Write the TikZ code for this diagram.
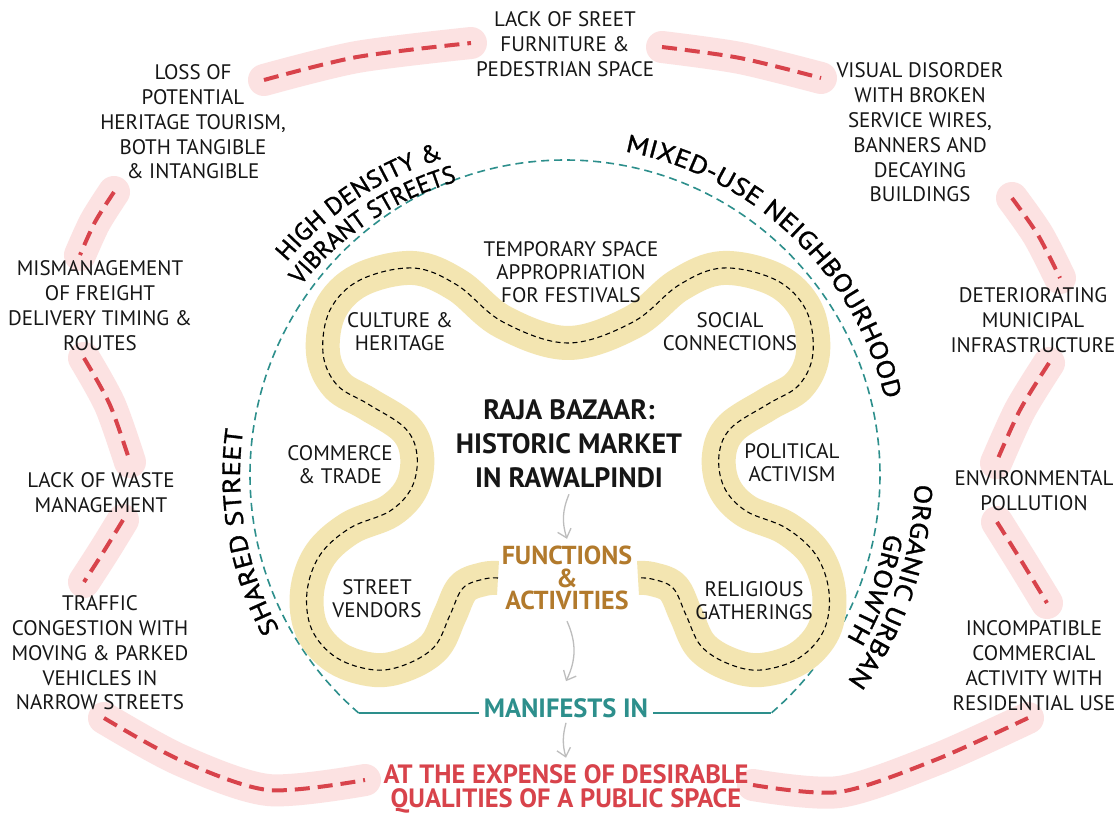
\documentclass[tikz,border=0pt]{standalone}
\usepackage{fontspec}
\setmainfont{PT Sans}
\newfontfamily\arcfam{PT Sans}[FakeBold=1.2, FakeStretch=1.15]
\newfontfamily\arcfamb{PT Sans}[FakeBold=1.2, FakeStretch=1.05]
\newfontfamily\arcfamc{PT Sans}[FakeBold=1.2, FakeStretch=0.98]
\usetikzlibrary{decorations.text,arrows.meta,calc}
\definecolor{cream}{HTML}{F3E5B1}
\definecolor{halopink}{HTML}{FCE2E2}
\definecolor{dashred}{HTML}{D8434B}
\definecolor{tealc}{HTML}{2D8F8C}
\definecolor{brownc}{HTML}{B27A2C}
\definecolor{grayc}{HTML}{BDBDBD}
\definecolor{inkc}{HTML}{161616}
\newcommand{\arcfnt}{\arcfam\fontsize{25}{25}\selectfont}
\newcommand{\arcfntb}{\arcfamb\fontsize{24.5}{24.5}\selectfont}
\newcommand{\arcfntc}{\arcfamc\fontsize{24.5}{24.5}\selectfont}
\begin{document}
\begin{tikzpicture}[x=1pt,y=1pt,
  body/.style={font=\fontsize{21}{24.8}\selectfont, align=center, text=inkc, inner sep=0pt},
  innertxt/.style={font=\fontsize{21}{23}\selectfont, align=center, text=inkc, inner sep=0pt},
  boldtxt/.style={align=center, inner sep=0pt},
  reddash/.style={draw=dashred, line width=4pt, dash pattern=on 15pt off 8pt,
     preaction={draw=halopink, line width=32pt, solid, line cap=round}},
  bandline/.style={draw=black, line width=1.1pt, dash pattern=on 5pt off 3.5pt,
     preaction={draw=cream, line width=34pt, solid, line cap=butt, line join=round}},
  tealdash/.style={draw=tealc, line width=1.6pt, dash pattern=on 8pt off 5pt},
  tealline/.style={draw=tealc, line width=1.8pt},
  grayarrow/.style={draw=grayc, line width=1.3pt, -{Straight Barb[length=8pt,width=14pt]}},
  arctext/.style={decorate, decoration={text along path, text align={fit to path}, text={#1}}},
  arctextc/.style={decorate, decoration={text along path, text align=center, text={#1}}}
]
\useasboundingbox (0,0) rectangle (1120,-817);
\fill[white] (0,0) rectangle (1120,-817);

% outer red dashed segments with halo
\draw[reddash] plot[smooth] coordinates {(264,-80) (357,-57) (471,-43)};
\draw[reddash] plot[smooth] coordinates {(662,-47) (740,-58) (821,-78)};
\draw[reddash] plot[smooth] coordinates {(114,-192) (95,-222) (80,-255)};
\draw[reddash] plot[smooth] coordinates {(84,-358) (110,-405) (130,-462)};
\draw[reddash] plot[smooth] coordinates {(123,-520) (104,-551) (84,-582)};
\draw[reddash] plot[smooth] coordinates {(104,-718) (180,-760) (268,-790) (365,-780)};
\draw[reddash] plot[smooth] coordinates {(753,-785) (839,-792) (935,-760) (1028,-718)};
\draw[reddash] plot[smooth] coordinates {(997,-522) (1022,-562) (1047,-603)};
\draw[reddash] plot[smooth] coordinates {(1049,-363) (1020,-410) (996,-463)};
\draw[reddash] plot[smooth] coordinates {(1012,-198) (1038,-235) (1060,-278)};

% teal dashed arc
\coordinate (cen) at (565,-475);
\coordinate (cen2) at (540,-475);
\coordinate (cl) at ($(cen)+(229.1:315)$);
\coordinate (cr) at ($(cen)+(-49.1:315)$);
\draw[tealdash] (cl) arc[start angle=229.1, end angle=-49.1, radius=315];

% band
\draw[bandline] plot[smooth, tension=0.6] coordinates {
(498,-578) (484,-579) (463,-588) (450,-615) (435,-646) (407,-664) (375,-670)
(337,-658) (312,-630) (307,-592) (320,-555) (350,-528) (390,-511) (412,-487)
(417,-455) (405,-428) (368,-404) (337,-385) (323,-353) (330,-310) (360,-280)
(413,-268) (457,-285) (503,-322) (568,-343)
(633,-322) (679,-285) (723,-268) (776,-280) (806,-310) (813,-353) (799,-385)
(768,-404) (731,-428) (719,-455) (724,-487) (746,-511) (786,-528) (816,-555)
(829,-592) (824,-630) (799,-658) (761,-670) (729,-664) (701,-646) (686,-615)
(673,-588) (652,-579) (638,-578)};

% curved labels
\path[arctextc={|\arcfntb|HIGH DENSITY {\&}}] (cen2) ++(150:331) arc[start angle=150, end angle=97, radius=331];
\path[arctextc={|\arcfntc|VIBRANT STREETS}] (cen2) ++(151:305) arc[start angle=151, end angle=96.5, radius=305];
\path[arctext={|\arcfnt|MIXED-USE NEIGHBOURHOOD}] (cen) ++(79.5:329) arc[start angle=79.5, end angle=14, radius=329];
\path[arctext={|\arcfnt|SHARED STREET}] (cen) ++(208.5:325) arc[start angle=208.5, end angle=172, radius=325];
\path[arctext={|\arcfnt|ORGANIC URBAN}] (cen) ++(-1.5:350) arc[start angle=-1.5, end angle=-35.6, radius=350];
\path[arctext={|\arcfnt|GROWTH}] (cen) ++(-10.3:326) arc[start angle=-10.3, end angle=-30.2, radius=326];

% outer texts
\node[body] (lackfurn) at (565,-44) {LACK OF SREET\\FURNITURE \&\\PEDESTRIAN SPACE};
\node[body] (loss) at (193,-122) {LOSS OF\\POTENTIAL\\HERITAGE TOURISM,\\BOTH TANGIBLE\\\& INTANGIBLE};
\node[body] (visual) at (920,-132.5) {VISUAL DISORDER\\WITH BROKEN\\SERVICE WIRES,\\BANNERS AND\\DECAYING\\BUILDINGS};
\node[body] (freight) at (100,-305.5) {MISMANAGEMENT\\OF FREIGHT\\DELIVERY TIMING \&\\ROUTES};
\node[body] (infra) at (1033,-320) {DETERIORATING\\MUNICIPAL\\INFRASTRUCTURE};
\node[body] (waste) at (101,-492.5) {LACK OF WASTE\\MANAGEMENT};
\node[body] (pollution) at (1034,-490.5) {ENVIRONMENTAL\\POLLUTION};
\node[body] (traffic) at (100,-653) {TRAFFIC\\CONGESTION WITH\\MOVING \& PARKED\\VEHICLES IN\\NARROW STREETS};
\node[body] (incomp) at (1034,-665.5) {INCOMPATIBLE\\COMMERCIAL\\ACTIVITY WITH\\RESIDENTIAL USE};

% inner texts
\node[innertxt] (temp) at (571,-272.5) {TEMPORARY SPACE\\APPROPRIATION\\FOR FESTIVALS};
\node[innertxt] (culture) at (400,-331.5) {CULTURE \&\\HERITAGE};
\node[innertxt] (social) at (730,-331.5) {SOCIAL\\CONNECTIONS};
\node[innertxt] (commerce) at (340,-465) {COMMERCE\\\& TRADE};
\node[innertxt] (political) at (792,-462.5) {POLITICAL\\ACTIVISM};
\node[innertxt] (vendors) at (377,-599) {STREET\\VENDORS};
\node[innertxt] (religious) at (754,-601) {RELIGIOUS\\GATHERINGS};

% central texts
\node[boldtxt, font=\fontsize{28}{34}\selectfont\bfseries, text=inkc] (raja) at (569,-444) {RAJA BAZAAR:\\HISTORIC MARKET\\IN RAWALPINDI};
\node[boldtxt, font=\fontsize{26}{22.5}\selectfont\bfseries, text=brownc] (func) at (567,-578) {FUNCTIONS\\\&\\ACTIVITIES};
\node[boldtxt, font=\fontsize{26.5}{23}\selectfont\bfseries, text=tealc, inner xsep=5pt] (manif) at (566,-708) {MANIFESTS IN};
\node[boldtxt, font=\fontsize{26.5}{23.5}\selectfont\bfseries, text=dashred] (expense) at (566,-789) {AT THE EXPENSE OF DESIRABLE\\QUALITIES OF A PUBLIC SPACE};

% teal solid base lines
\draw[tealline] (cl) -- (cl -| manif.west);
\draw[tealline] (cr -| manif.east) -- (cr);

% gray arrows
\draw[grayarrow] ([yshift=-6pt]raja.south) to[bend right=20] ([yshift=7pt]func.north);
\draw[grayarrow] ([yshift=-11pt]func.south) to[bend left=25] ([yshift=17pt]manif.north);
\draw[grayarrow] ([yshift=-5pt]manif.south) to[bend right=15] ([yshift=7pt]expense.north);
\end{tikzpicture}
\end{document}
